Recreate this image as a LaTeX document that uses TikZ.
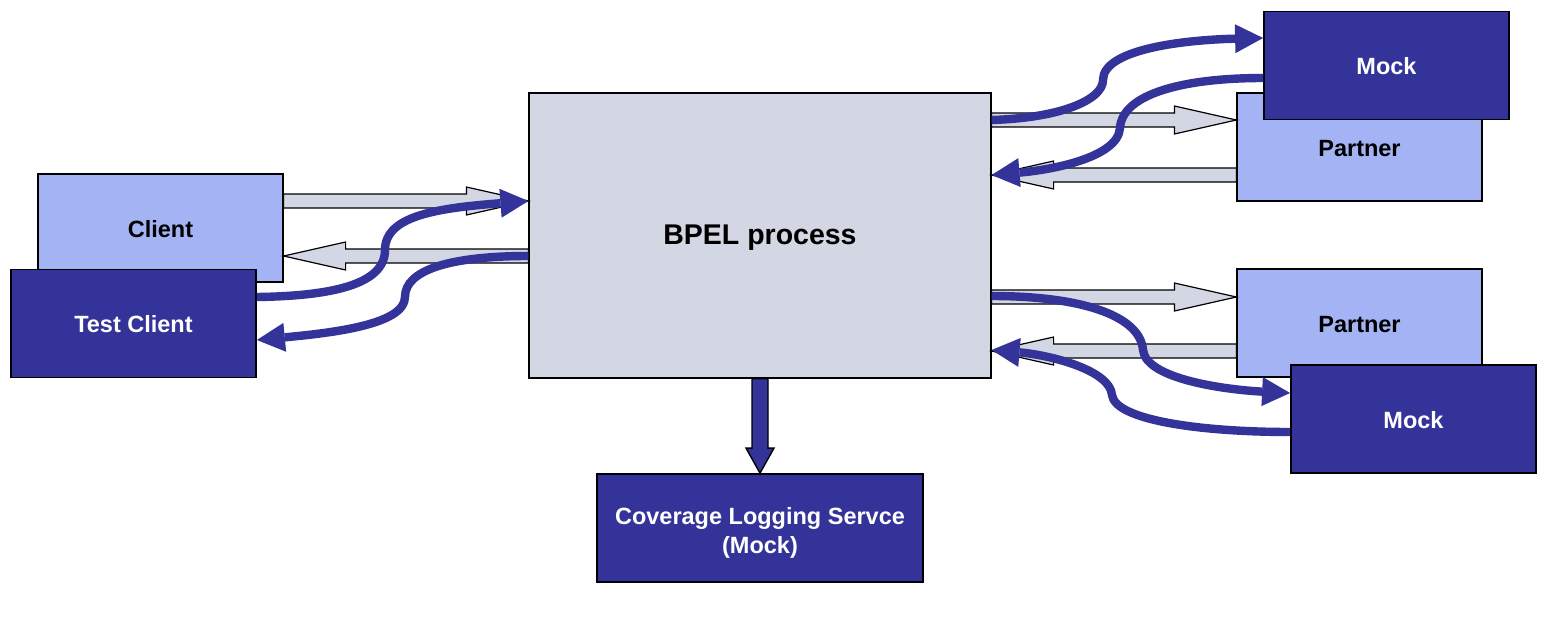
\documentclass[tikz,border=0pt]{standalone}
\usepackage{fontspec}
\setmainfont{Liberation Sans}
\usetikzlibrary{arrows.meta,calc}
\definecolor{navy}{HTML}{333399}
\definecolor{sky}{HTML}{A3B3F3}
\definecolor{mist}{HTML}{D3D6E3}
\newcommand{\lblfont}{\fontsize{11.75}{14.5}\selectfont\bfseries}
\tikzset{
  box/.style={draw, rectangle, minimum width=122.5pt, minimum height=54pt, align=center, inner sep=2pt, font=\lblfont, text height=0.93em, text depth=0pt},
  peer/.style={box, fill=sky, line width=0.6pt},
  fake/.style={box, fill=navy, text=white, line width=0.9pt},
  proc/.style={box, fill=mist, line width=0.6pt, minimum width=231pt, minimum height=142.5pt, font=\fontsize{14.25}{17}\selectfont\bfseries},
  blk/.style={draw=black, fill=mist, line width=0.6pt, line join=miter},
  sink/.style={draw=black, fill=navy, line width=0.7pt, line join=miter},
  flow/.style={draw=navy, line width=4.2pt, -{Triangle[length=14pt,width=14.5pt,line width=0pt]}}
}
% block arrow: [style]{from}{tip}{half shaft}{half head}{head length}
\newcommand{\blockarr}[6][blk]{%
  \path (#2) coordinate (ba-s) (#3) coordinate (ba-t);
  \path ($(ba-t)!#6!(ba-s)$) coordinate (ba-h);
  \draw[#1] ($(ba-s)!#4!90:(ba-t)$) -- ($(ba-h)!#4!90:(ba-t)$) -- ($(ba-h)!#5!90:(ba-t)$)
    -- (ba-t) -- ($(ba-h)!#5!-90:(ba-t)$) -- ($(ba-h)!#4!-90:(ba-t)$) -- ($(ba-s)!#4!-90:(ba-t)$) -- cycle;}

\begin{document}
\begin{tikzpicture}[x=0.5pt, y=-0.5pt]
\useasboundingbox (0,0) rectangle (1544,622);
\node[peer] (client) at (160.5,228) {Client};
\node[fake] (testc) at (133.5,323.5) {Test Client};
\node[proc] (bpel) at (760,235.5) {BPEL process};
\node[peer] (partA) at (1359.5,147) {Partner};
\node[fake] (mockA) at (1386.5,65.5) {Mock};
\node[peer] (partB) at (1359.5,323) {Partner};
\node[fake] (mockB) at (1413.5,419) {Mock};
\node[fake, minimum width=163pt, text height=, text depth=] (cov) at (760,528)
  {\rule{0pt}{13.6pt}Coverage Logging Servce\\(Mock)};
% real calls
\blockarr{client.east |- 0,201}{bpel.west |- 0,201}{3.5pt}{7pt}{31pt}
\blockarr{bpel.west |- 0,256}{client.east |- 0,256}{3.5pt}{7pt}{31pt}
\blockarr{bpel.east |- 0,120}{partA.west |- 0,120}{3.5pt}{7pt}{31pt}
\blockarr{partA.west |- 0,175}{bpel.east |- 0,175}{3.5pt}{7pt}{31pt}
\blockarr{bpel.east |- 0,297}{partB.west |- 0,297}{3.5pt}{7pt}{31pt}
\blockarr{partB.west |- 0,351}{bpel.east |- 0,351}{3.5pt}{7pt}{31pt}
\blockarr[sink]{bpel.south}{cov.north}{4pt}{7pt}{12.5pt}
% test calls
\draw[flow] (testc.east |- 0,297) .. controls (330,296) and (385,285) .. (385,250)
  .. controls (385,215) and (440,208) .. (bpel.west |- 0,201);
\draw[flow] (bpel.west |- 0,256) .. controls (450,256) and (405,270) .. (405,297)
  .. controls (405,325) and (330,333) .. (testc.east |- 0,340);
\draw[flow] (bpel.east |- 0,120) .. controls (1060,118) and (1103,100) .. (1103,80)
  .. controls (1103,50) and (1180,40) .. (mockA.west |- 0,38);
\draw[flow] (mockA.west |- 0,78) .. controls (1180,78) and (1122,95) .. (1120,128)
  .. controls (1118,158) and (1050,170) .. (bpel.east |- 0,175);
\draw[flow] (bpel.east |- 0,296) .. controls (1080,296) and (1140,315) .. (1143,350)
  .. controls (1146,380) and (1230,390) .. (mockB.west |- 0,393);
\draw[flow] (mockB.west |- 0,432) .. controls (1200,432) and (1115,420) .. (1112,395)
  .. controls (1110,370) and (1050,355) .. (bpel.east |- 0,350);
\end{tikzpicture}
\end{document}
